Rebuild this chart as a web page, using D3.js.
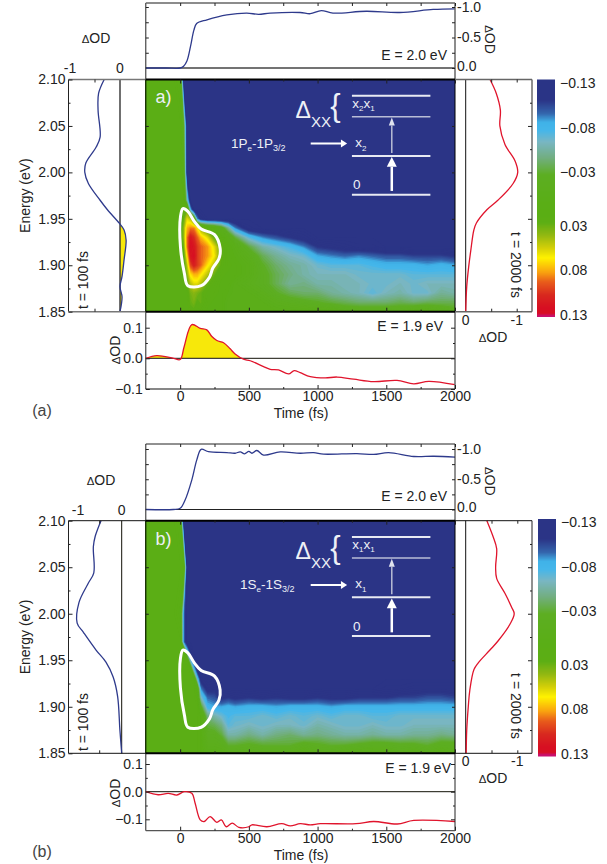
<!DOCTYPE html>
<meta charset="utf-8">
<style>
html, body { margin: 0; padding: 0; background: #fff; }
svg { display: block; }
text { font-family: "Liberation Sans", Arial, sans-serif; fill: #222; }
.tk text { font-size: 14px; fill: #222; }
.tk line { stroke: #222; stroke-width: 1px; }
.tk path { display: none; }
.trace { fill: none; stroke-width: 1.3px; }
.white { fill: #eef0f6; }
</style>
<svg width="607" height="864"></svg>
<script src="https://d3js.org/d3.v7.min.js"></script>
<script>
// axes of the 2D maps
var times = [-250,-100,-50,0,25,50,75,100,125,150,200,250,300,350,400,500,600,700,800,900,1000,1100,1200,1300,1400,1500,1600,1700,1800,1900,2000];
var energies = [2.10,2.05,2.00,1.97,1.96,1.95,1.94,1.93,1.92,1.91,1.90,1.89,1.88,1.87,1.86,1.85];

// map values, dOD x 100, one row per energy
var mapA = [
 [2,2,2,1,-13,-13,-13,-13,-13,-13,-13,-13,-13,-13,-13,-13,-13,-13,-13,-13,-13,-13,-13,-13,-13,-13,-13,-13,-13,-13,-13],
 [2,2,2,2,-2,-13,-13,-13,-13,-13,-13,-13,-13,-13,-13,-13,-13,-13,-13,-13,-13,-13,-13,-13,-13,-13,-13,-13,-13,-13,-13],
 [2,2,2,2,0,-13,-13,-13,-13,-13,-13,-13,-13,-13,-13,-13,-13,-13,-13,-13,-13,-13,-13,-13,-13,-13,-13,-13,-13,-13,-13],
 [2,2,2,2,2,-6,-13,-13,-13,-13,-13,-13,-13,-13,-13,-13,-13,-13,-13,-13,-13,-13,-13,-13,-13,-13,-13,-13,-13,-13,-13],
 [2,2,2,2,3,3,-8,-13,-13,-13,-13,-13,-13,-13,-13,-13,-13,-13,-13,-13,-13,-13,-13,-13,-13,-13,-13,-13,-13,-13,-13],
 [2,2,2,2,3,6,5,1,-9,-12,-13,-13,-13,-13,-13,-13,-13,-13,-13,-13,-13,-13,-13,-13,-13,-13,-13,-13,-13,-13,-13],
 [2,2,2,2,4,8,9,9,7,4,2,1,-1,-5,-9,-12.5,-13,-13,-13,-13,-13,-13,-13,-13,-13,-13,-13,-13,-13,-13,-13],
 [2,2,2,2,4,9,12,11,9.5,8,6,3,1.5,0,-3,-7,-9,-10,-11,-12,-13,-13,-13,-13,-13,-13,-13,-13,-13,-13,-13],
 [2,2,2,2,3,9,12.5,12,10.5,9.5,8.5,6,3,1,0,-3,-5.5,-6.5,-7.5,-9,-11,-11.5,-12,-12.5,-12.5,-13,-13,-13,-13,-13,-13],
 [2,2,2,2,2,7,12,12.5,10.5,9.5,8.5,6.5,3,1,0.5,-1,-3.5,-5,-6,-6.5,-8.5,-9,-9.5,-9,-9.5,-10,-10,-10.5,-10.5,-10.5,-11],
 [2,2,2,2,2,5,10,11.5,10.5,9.5,7,5,2.5,1.5,1,0,-2.5,-4,-5,-5.5,-6.5,-7,-7,-7,-7.5,-8,-8,-8,-8.5,-8,-8.5],
 [2,2,2,2,2,4,7,8,8,7,5,3,1.5,1,1,0,-2,-3.5,-4.5,-5.5,-6,-6,-6,-6.5,-6.5,-6.5,-6.5,-7,-7,-7,-7],
 [2,2,2,2,2,3,5,6,6,5,3,2,1,1,0,-1,-2,-3.5,-5,-4.5,-5.5,-5.5,-6,-6,-6.5,-6.5,-6,-6.5,-6,-6,-6],
 [2,2,2,2,2,2,3.5,4,3.5,3,2,1.5,1,0.5,0,0,-1,-2.5,-3.5,-4,-4,-5,-5.5,-6,-7,-6,-5.5,-6.5,-6.5,-5,-5.5],
 [2,2,2,2,2,2,3,3.5,2.5,3,1.5,1,1,0,0,0,0,-1,-1.5,-2,-2.5,-3,-3.5,-4,-4,-4,-3.5,-4,-3.5,-3.5,-3.5],
 [2,2,2,2,2,2,2.5,2.5,2,2,1,1,1,0,0,0,0,0,0,0,0,0,-1,-1,-1,-1,-1,0,0,-1,-2]
];
var mapB = [
 [2,2,2,1,-13,-13,-13,-13,-13,-13,-13,-13,-13,-13,-13,-13,-13,-13,-13,-13,-13,-13,-13,-13,-13,-13,-13,-13,-13,-13,-13],
 [2,2,2,2,1,-13,-13,-13,-13,-13,-13,-13,-13,-13,-13,-13,-13,-13,-13,-13,-13,-13,-13,-13,-13,-13,-13,-13,-13,-13,-13],
 [2,2,2,1,-9,-13,-13,-13,-13,-13,-13,-13,-13,-13,-13,-13,-13,-13,-13,-13,-13,-13,-13,-13,-13,-13,-13,-13,-13,-13,-13],
 [2,2,2,2,-9,-13,-13,-13,-13,-13,-13,-13,-13,-13,-13,-13,-13,-13,-13,-13,-13,-13,-13,-13,-13,-13,-13,-13,-13,-13,-13],
 [2,2,2,2,2,-7,-12,-13,-13,-13,-13,-13,-13,-13,-13,-13,-13,-13,-13,-13,-13,-13,-13,-13,-13,-13,-13,-13,-13,-13,-13],
 [2,2,2,2,2,1,-7,-12,-13,-13,-13,-13,-13,-13,-13,-13,-13,-13,-13,-13,-13,-13,-13,-13,-13,-13,-13,-13,-13,-13,-13],
 [2,2,2,2,2,2,1,-7,-12,-13,-13,-13,-13,-13,-13,-13,-13,-13,-13,-13,-13,-13,-13,-13,-13,-13,-13,-13,-13,-13,-13],
 [2,2,2,2,2,2,2,1,-7,-12,-13,-13,-13,-13,-13,-13,-13,-13,-13,-13,-13,-13,-13,-13,-13,-13,-13,-13,-13,-13,-13],
 [2,2,2,2,2,2,2,2,0,-9,-12,-11.5,-13,-13,-13,-13,-13,-13,-13,-13,-13,-13,-13,-13,-13,-12.5,-12.5,-12,-12,-12,-12],
 [2,2,2,2,2,2,2,2,1,-6,-9.5,-10,-11.5,-11,-11.5,-11,-11.5,-11,-11.5,-11.5,-11,-11.5,-11.5,-11,-11,-11,-10.5,-10.5,-10,-10,-10.5],
 [2,2,2,2,2,2,2,2,2,-2,-8,-8.5,-8.5,-8,-8.5,-8,-8,-8.5,-8,-8,-8,-8.5,-8,-8,-8,-8,-8,-8,-8,-8,-8],
 [2,2,2,2,2,2,2,2,2,1,-4.5,-5.5,-6.5,-7.5,-7,-7,-6.5,-7,-6.5,-7,-6.5,-7,-6.5,-6.5,-7,-7,-6.5,-6.5,-6.5,-6.5,-6.5],
 [2,2,2,2,2,2,2,2,2,1,-3,-3.5,-4.5,-7,-6.5,-6,-6.5,-6,-6,-6.5,-5.5,-6,-6.5,-6.5,-6,-6.5,-6.5,-6,-6,-6,-6],
 [2,2,2,2,2,2,2,2,2,1,-2,-2,-3,-5.5,-5.5,-4.5,-5.5,-4.5,-4,-5,-4.5,-5,-5.5,-5.5,-5,-5.5,-5.5,-5,-5,-4.5,-5],
 [2,2,2,2,2,2,2,2,2,1,-1,-1,-1.5,-3,-3,-2.5,-3,-3,-3,-2,-2.5,-3,-3,-2.5,-2,-2,-2.5,-2.5,-3,-2,-2],
 [2,2,2,2,2,2,2,2,2,1,0,0,0,-1,-1,-1,-1,-1,-1,0,-1,-1,0,0,0,0,-1,0,-1,0,-1]
];

// kinetic traces
var topTimesA = [-250,-100,0,25,50,75,100,120,195,340,485,570,655,873,947,1027,1112,1355,1598,1841,2000];
var topValuesA = [0,0,0,0.03,0.12,0.35,0.62,0.73,0.79,0.87,0.90,0.88,0.90,0.91,0.89,0.94,0.90,0.93,0.91,0.96,0.97];
var botTimesA = [-250,-170,-48,0,29,85,146,194,231,267,316,364,400,461,510,607,655,716,789,830,874,947,1056,1141,1262,1408,1578,1700,1810,2000];
var botValuesA = [0,0.009,0,-0.004,0.038,0.11,0.098,0.093,0.071,0.058,0.051,0.031,0.014,-0.003,-0.008,-0.027,-0.036,-0.038,-0.051,-0.04,-0.047,-0.06,-0.064,-0.061,-0.068,-0.076,-0.072,-0.083,-0.075,-0.086];
var topTimesB = [-250,-50,0,36,85,121,153,206,340,400,437,469,500,522,558,607,728,874,971,1044,1286,1408,1517,1700,1846,2000];
var topValuesB = [0,0,0.02,0.157,0.49,0.82,0.995,0.955,0.94,0.93,0.953,0.92,0.96,0.93,0.975,0.90,0.953,0.93,0.94,0.915,0.925,0.91,0.94,0.876,0.88,0.865];
var botTimesB = [-250,-160,-87,-24,29,85,109,146,175,218,267,300,335,379,427,500,522,631,740,801,874,947,1020,1280,1408,1580,1700,2000];
var botValuesB = [0,-0.011,-0.006,-0.012,0,-0.006,-0.042,-0.102,-0.108,-0.09,-0.111,-0.102,-0.127,-0.114,-0.129,-0.127,-0.12,-0.127,-0.116,-0.124,-0.116,-0.12,-0.116,-0.116,-0.108,-0.117,-0.104,-0.108];

// spectra
var leftEnergyA = [2.10,2.085,2.067,2.038,2.027,2.01,2.0,1.988,1.97,1.96,1.945,1.938,1.927,1.906,1.888,1.877,1.866,1.85];
var leftValuesA = [-0.31,-0.42,-0.43,-0.39,-0.47,-0.67,-0.69,-0.62,-0.39,-0.25,-0.01,0.08,0.12,0.08,0.04,0,0.04,0];
var rightEnergyA = [2.10,2.085,2.067,2.05,2.03,2.012,2.0,1.988,1.97,1.96,1.9455,1.938,1.916,1.899,1.877,1.85];
var rightValuesA = [-0.477,-0.6,-0.68,-0.67,-0.77,-0.97,-1.02,-0.93,-0.63,-0.42,-0.21,-0.16,-0.1,-0.06,-0.02,0];
var leftEnergyB = [2.10,2.083,2.072,2.044,2.033,2.012,1.99,1.98,1.961,1.948,1.932,1.911,1.875,1.85];
var leftValuesB = [-0.46,-0.59,-0.63,-0.62,-0.74,-0.95,-0.99,-0.85,-0.57,-0.35,-0.19,-0.09,-0.04,0];
var rightEnergyB = [2.10,2.083,2.07,2.05,2.038,2.022,2.007,2.0,1.989,1.971,1.961,1.947,1.94,1.918,1.9,1.875,1.85];
var rightValuesB = [-0.41,-0.53,-0.6,-0.58,-0.6,-0.76,-0.89,-0.94,-0.86,-0.63,-0.47,-0.24,-0.16,-0.08,-0.05,-0.02,-0.01];

// white outline around the induced absorption region
var outlineTimes = [20,56,104,153,250,291,282,238,213,153,56,31,2,2];
var outlineEnergies = [1.961,1.958,1.947,1.939,1.933,1.918,1.907,1.897,1.887,1.878,1.878,1.891,1.920,1.952];

// colour bar
var barLabels = [-0.13,-0.08,-0.03,0.03,0.08,0.13];
var colorStops = [-0.134,-0.111,-0.096,-0.086,-0.077,-0.064,-0.046,-0.027,0.007,0.026,0.040,0.055,0.066,0.082,0.093,0.108,0.122,0.128,0.131];
var colorValues = ["#2b3486","#2b3486","#3465ac","#40b2e8","#45b6ea","#79b6c3","#72ae80","#5dae22","#5aae16","#5cae14","#8fb712","#d4cf08","#fff200","#f9a30f","#e85c1b","#d8281f","#d70f22","#d70f22","#c8106e"];

var color = d3.scaleLinear().domain(colorStops).range(colorValues).clamp(true);
var svg = d3.select("svg");
var colX = d3.scaleLinear().domain([-250, 2000]).range([145.8, 455]);

drawPanel({
  map: mapA, name: "a)", tag: "(a)", tagY: 410,
  topLine: topValuesA, topT: topTimesA, botLine: botValuesA, botT: botTimesA,
  left: leftValuesA, leftE: leftEnergyA, right: rightValuesA, rightE: rightEnergyA,
  frameTop: 3, top0: 68, top1: 7,
  mapTop: 79.5, mapBot: 311.7, botBot: 389, botP: 327.7, bot0: 358.3, botM: 389,
  left0: 120, leftM: 69, right0: 465.7, rightM: 516.7,
  barTop: 79.5, barBot: 316.5, barX: 537, barA: 83, barZ: 315,
  lab1: "1P", labS: "e", lab2: "-1P", x2: "2", labX: 231, topLabelX: 447, botLabelX: 443, botLabelDy: 14.5,
  dTopX: 96, dTopY: 38, minusX: 69, spectrumLabelY: 320, dotY: 337.5, t100y: 280, t2000y: 265, dBotY: 350,
  grey: "#666", weight: 1.5
});
drawPanel({
  map: mapB, name: "b)", tag: "(b)", tagY: 851,
  topLine: topValuesB, topT: topTimesB, botLine: botValuesB, botT: botTimesB,
  left: leftValuesB, leftE: leftEnergyB, right: rightValuesB, rightE: rightEnergyB,
  frameTop: 444, top0: 509.5, top1: 449,
  mapTop: 520.7, mapBot: 753.3, botBot: 830.7, botP: 764, bot0: 791.7, botM: 819.3,
  left0: 121.7, leftM: 76.7, right0: 465.7, rightM: 517.3,
  barTop: 519, barBot: 755.6, barX: 538, barA: 522, barZ: 754,
  lab1: "1S", labS: "e", lab2: "-1S", x2: "1", labX: 240, topLabelX: 447, botLabelX: 451, botLabelDy: 15,
  dTopX: 101, dTopY: 480, minusX: 77, spectrumLabelY: 761, dotY: 778, t100y: 722, t2000y: 706, dBotY: 793,
  grey: "#222", weight: 1
});

function ticks(g, axis, tx, ty) {
  g.append("g").attr("class", "tk").attr("transform", "translate(" + tx + "," + ty + ")").call(axis);
}

function label(g, x, y, str, anchor, size, rot) {
  var t = g.append("text").attr("text-anchor", anchor || "middle").attr("dy", "0.35em")
    .style("font-size", (size || 14) + "px").text(str);
  t.attr("transform", "translate(" + x + "," + y + ")" + (rot ? " rotate(" + rot + ")" : ""));
  return t;
}

function deltaOD(g, x, y, rot) {
  var t = g.append("text").attr("text-anchor", "middle").attr("dy", "0.35em").style("font-size", "14px")
    .attr("transform", "translate(" + x + "," + y + ")" + (rot ? " rotate(" + rot + ")" : ""));
  t.append("tspan").style("font-size", "11.5px").text("\u0394");
  t.append("tspan").text("OD");
}

function hline(g, x1, x2, y, col, w) {
  g.append("line").attr("x1", x1).attr("x2", x2).attr("y1", y).attr("y2", y).style("stroke", col).style("stroke-width", w);
}
function vline(g, x, y1, y2, col, w) {
  g.append("line").attr("x1", x).attr("x2", x).attr("y1", y1).attr("y2", y2).style("stroke", col).style("stroke-width", w);
}

function drawPanel(p) {
  var g = svg.append("g");
  var x = colX;
  var y = d3.scaleLinear().domain([1.85, 2.10]).range([p.mapBot, p.mapTop]);
  var yTop = d3.scaleLinear().domain([0, 1]).range([p.top0, p.top1]);
  var yBot = d3.scaleLinear().domain([-0.1, 0, 0.1]).range([p.botM, p.bot0, p.botP]);
  var xL = d3.scaleLinear().domain([-1, 0]).range([p.leftM, p.left0]);
  var xR = d3.scaleLinear().domain([0, -1]).range([p.right0, p.rightM]);

  // filled contours of the map
  var n = times.length, m = energies.length;
  var gx = d3.scaleLinear().domain(d3.range(n).map(function(i) { return i + 0.5; })).range(times.map(x)).clamp(true);
  var gy = d3.scaleLinear().domain(d3.range(m).map(function(i) { return i + 0.5; })).range(energies.map(y)).clamp(true);
  var path = d3.geoPath(d3.geoTransform({ point: function(u, v) { this.stream.point(gx(u), gy(v)); } }));
  var levels = d3.range(-13.3, 13, 0.33);
  var contours = d3.contours().size([n, m]).thresholds(levels)(d3.merge(p.map));
  g.append("rect").attr("x", x(-250)).attr("y", p.mapTop).attr("width", x(2000) - x(-250)).attr("height", p.mapBot - p.mapTop).attr("fill", color(-0.134));
  g.append("g").selectAll("path").data(contours).enter().append("path")
    .attr("d", path).attr("fill", function(d) { return color(d.value / 100); });

  // outline
  var outline = d3.line().curve(d3.curveCatmullRomClosed.alpha(0.5))
    .x(function(d, i) { return x(outlineTimes[i]); }).y(function(d, i) { return y(outlineEnergies[i]); });
  g.append("path").attr("d", outline(outlineTimes)).style("fill", "none").style("stroke", "#fff").style("stroke-width", 3);

  // level scheme inside the map
  var lx1 = x(1250), lx2 = x(1821);
  hline(g, lx1, lx2, y(2.0826), "#e8eaf2", 2);
  hline(g, lx1, lx2, y(2.06), "#b9bdd6", 1.5);
  hline(g, lx1, lx2, y(2.0176), "#e8eaf2", 2);
  hline(g, lx1, lx2, y(1.976), "#e8eaf2", 2);
  var ax = x(1540);
  vline(g, ax, y(2.021), y(2.0505), "#b9bdd6", 1.5);
  g.append("path").attr("d", d3.line()([[ax - 3, y(2.0505)], [ax + 3, y(2.0505)], [ax, y(2.059)]])).attr("fill", "#dfe2ee");
  vline(g, ax, y(1.98), y(2.006), "#fff", 2.5);
  g.append("path").attr("d", d3.line()([[ax - 5, y(2.006)], [ax + 5, y(2.006)], [ax, y(2.0165)]])).attr("fill", "#fff");
  hline(g, x(950), x(1185), y(2.031), "#fff", 2);
  g.append("path").attr("d", d3.line()([[x(1170), y(2.031) - 4], [x(1170), y(2.031) + 4], [x(1215), y(2.031)]])).attr("fill", "#fff");

  label(g, x(-122), y(2.081), p.name, "middle", 18).attr("class", "white");
  var tr = g.append("text").attr("class", "white").attr("x", p.labX).attr("y", y(2.031) + 4.5).style("font-size", "13.5px");
  tr.append("tspan").text(p.lab1);
  tr.append("tspan").attr("dy", 3).style("font-size", "8px").text(p.labS);
  tr.append("tspan").attr("dy", -3).text(p.lab2);
  tr.append("tspan").attr("dy", 3).style("font-size", "9px").text("3/2");
  var dl = g.append("text").attr("class", "white").attr("x", x(840)).attr("y", y(2.0585));
  dl.append("tspan").style("font-size", "23px").text("\u0394");
  dl.append("tspan").attr("dy", 9).style("font-size", "15px").text("XX");
  g.append("text").attr("class", "white").attr("text-anchor", "middle").attr("x", x(1130)).attr("y", y(2.072)).attr("dy", "0.35em")
    .style("font-size", "31px").text("{");
  var xx = g.append("text").attr("class", "white").attr("x", x(1252)).attr("y", y(2.074) + 4).style("font-size", "13.5px");
  xx.append("tspan").text("x");
  xx.append("tspan").attr("dy", 3).style("font-size", "8px").text(p.x2);
  xx.append("tspan").attr("dy", -3).text("x");
  xx.append("tspan").attr("dy", 3).style("font-size", "8px").text("1");
  var xs = g.append("text").attr("class", "white").attr("x", x(1275)).attr("y", y(2.032) + 4).style("font-size", "13.5px");
  xs.append("tspan").text("x");
  xs.append("tspan").attr("dy", 4).style("font-size", "8px").text(p.x2);
  g.append("text").attr("class", "white").attr("x", x(1258)).attr("y", y(1.987) + 5).style("font-size", "13.5px").text("0");

  // top trace
  var topLine = d3.line().curve(d3.curveCatmullRom.alpha(0.5))
    .x(function(d, i) { return x(p.topT[i]); }).y(function(d) { return yTop(d); });
  hline(g, x(-250), x(2000), p.top0, p.grey === "#666" ? "#444" : "#222", p.weight === 1 ? 1.2 : 1.5);
  g.append("path").attr("class", "trace").attr("d", topLine(p.topLine)).style("stroke", "#2e3a8c");
  vline(g, x(-250), p.frameTop, p.mapTop, "#222", 1);
  vline(g, x(2000), p.frameTop, p.mapTop, p.grey, p.weight);
  hline(g, x(-250), x(2000), p.frameTop, p.grey, p.weight);
  ticks(g, d3.axisTop(x).tickValues(d3.range(0, 2001, 250)).tickSize(-3).tickFormat(""), 0, p.frameTop);
  ticks(g, d3.axisLeft(yTop).tickValues([0.25, 0.5, 0.75, 1]).tickSize(-3).tickFormat(""), x(-250), 0);
  ticks(g, d3.axisRight(yTop).tickValues([0, 0.25, 0.5, 0.75, 1]).tickSize(-3).tickFormat(""), x(2000), 0);
  [[1, "-1.0"], [0.5, "-0.5"], [0, "0.0"]].forEach(function(d) {
    label(g, x(2000) + 2, yTop(d[0]) + (d[0] === 0 ? -2 : 0), d[1], "start", 14);
  });
  deltaOD(g, x(2000) + 35, (p.top0 + p.top1) / 2 + 2, 90);
  label(g, p.topLabelX, p.top0 - 13, "E = 2.0 eV", "end", 14);
  deltaOD(g, p.dTopX, p.dTopY);

  // bottom trace
  var botLine = d3.line().curve(d3.curveCatmullRom.alpha(0.5))
    .x(function(d, i) { return x(p.botT[i]); }).y(function(d) { return yBot(d); });
  var botArea = d3.area().curve(d3.curveCatmullRom.alpha(0.5))
    .x(function(d, i) { return x(p.botT[i]); }).y0(yBot(0)).y1(function(d) { return yBot(d); });
  var clipId = "clip" + p.tag.charAt(1);
  g.append("clipPath").attr("id", clipId + "b").append("rect").attr("x", x(-250)).attr("y", p.mapBot).attr("width", x(2000) - x(-250)).attr("height", yBot(0) - p.mapBot);
  g.append("path").attr("d", botArea(p.botLine)).attr("clip-path", "url(#" + clipId + "b)").style("fill", "#f7e80a");
  hline(g, x(-250), x(2000), yBot(0), "#111", 1);
  g.append("path").attr("class", "trace").attr("d", botLine(p.botLine)).style("stroke", "#e0142c");
  vline(g, x(-250), p.mapBot, p.botBot, "#222", 1);
  vline(g, x(2000), p.mapBot, p.botBot, p.grey, p.weight);
  hline(g, x(-250), x(2000), p.botBot, p.grey === "#666" ? "#111" : "#555", 1.2);
  ticks(g, d3.axisBottom(x).tickValues(d3.range(0, 2001, 500)).tickSize(-4).tickPadding(2).tickFormat(d3.format("d")), 0, p.botBot);
  ticks(g, d3.axisBottom(x).tickValues(d3.range(250, 2000, 500)).tickSize(-2).tickFormat(""), 0, p.botBot);
  ticks(g, d3.axisLeft(yBot).tickValues([-0.1, 0, 0.1]).tickSize(-4).tickPadding(3).tickFormat(d3.format(".1f")), x(-250), 0);
  ticks(g, d3.axisLeft(yBot).tickValues([-0.05, 0.05]).tickSize(-2).tickFormat(""), x(-250), 0);
  ticks(g, d3.axisRight(yBot).tickValues([-0.1, 0, 0.1]).tickSize(-4).tickFormat(""), x(2000), 0);
  ticks(g, d3.axisRight(yBot).tickValues([-0.05, 0.05]).tickSize(-2).tickFormat(""), x(2000), 0);
  deltaOD(g, 115, p.dBotY, -90);
  label(g, p.botLabelX, p.mapBot + p.botLabelDy, "E = 1.9 eV", "end", 14);
  label(g, 301, p.botBot + 24, "Time (fs)", "middle", 14);
  label(g, 42, p.tagY, p.tag, "middle", 16).style("fill", "#444");

  // left spectrum
  var leftLine = d3.line().curve(d3.curveCatmullRom.alpha(0.5))
    .x(function(d) { return xL(d); }).y(function(d, i) { return y(p.leftE[i]); });
  var leftArea = d3.area().curve(d3.curveCatmullRom.alpha(0.5))
    .y(function(d, i) { return y(p.leftE[i]); }).x0(xL(0)).x1(function(d) { return xL(d); });
  g.append("clipPath").attr("id", clipId + "l").append("rect").attr("x", xL(0)).attr("y", p.mapTop).attr("width", 30).attr("height", p.mapBot - p.mapTop);
  g.append("path").attr("d", leftArea(p.left)).attr("clip-path", "url(#" + clipId + "l)").style("fill", "#f7e80a");
  vline(g, xL(0), p.mapTop, p.mapBot, p.grey === "#666" ? "#333" : "#111", p.weight === 1 ? 1 : 1.4);
  g.append("path").attr("class", "trace").attr("d", leftLine(p.left)).style("stroke", "#2e3a8c");
  vline(g, 68.5, p.mapTop, p.mapBot, "#222", 1);
  hline(g, 68.5, x(-250), p.mapTop, p.grey === "#666" ? "#777" : "#111", p.weight);
  hline(g, 68.5, x(-250), p.mapBot, p.grey === "#666" ? "#777" : "#111", p.weight);
  ticks(g, d3.axisLeft(y).tickValues([1.85, 1.90, 1.95, 2.00, 2.05, 2.10]).tickSize(-4).tickPadding(3).tickFormat(d3.format(".2f")), 68.5, 0);
  ticks(g, d3.axisLeft(y).tickValues([1.875, 1.925, 1.975, 2.025, 2.075]).tickSize(-2).tickFormat(""), 68.5, 0);
  ticks(g, d3.axisBottom(xL).tickValues([-0.5]).tickSize(-3).tickFormat(""), 0, p.mapBot);
  ticks(g, d3.axisTop(xL).tickValues([-0.5]).tickSize(-3).tickFormat(""), 0, p.mapTop);
  label(g, p.minusX + 1, p.mapTop - 11, "-1", "middle", 14);
  label(g, xL(0), p.mapTop - 11, "0", "middle", 14);
  label(g, 25, (p.mapTop + p.mapBot) / 2, "Energy (eV)", "middle", 14, -90);
  label(g, 83, p.t100y, "t = 100 fs", "middle", 14, -90);

  // map frame and ticks
  hline(g, x(-250), x(2000), p.mapTop, "#000", 2);
  hline(g, x(-250), x(2000), p.mapBot, "#000", 2);
  vline(g, x(-250), p.mapTop, p.mapBot, "#000", 1);
  vline(g, x(2000), p.mapTop, p.mapBot, "#000", 1);
  ticks(g, d3.axisTop(x).tickValues(d3.range(250, 2000, 500)).tickSize(-2).tickFormat(""), 0, p.mapTop);
  ticks(g, d3.axisBottom(x).tickValues(d3.range(0, 2001, 500)).tickSize(-4).tickFormat(""), 0, p.mapBot);
  ticks(g, d3.axisBottom(x).tickValues(d3.range(250, 2000, 500)).tickSize(-2).tickFormat(""), 0, p.mapBot);
  ticks(g, d3.axisTop(x).tickValues(d3.range(0, 2001, 500)).tickSize(-4).tickFormat(""), 0, p.mapTop);
  ticks(g, d3.axisLeft(y).tickValues([1.90, 1.95, 2.00, 2.05]).tickSize(-3).tickFormat(""), x(-250), 0);
  ticks(g, d3.axisRight(y).tickValues([1.90, 1.95, 2.00, 2.05]).tickSize(-3).tickFormat(""), x(2000), 0);

  // right spectrum
  var rightLine = d3.line().curve(d3.curveCatmullRom.alpha(0.5))
    .x(function(d) { return xR(d); }).y(function(d, i) { return y(p.rightE[i]); });
  vline(g, xR(0), p.mapTop, p.mapBot, "#111", 1);
  g.append("path").attr("class", "trace").attr("d", rightLine(p.right)).style("stroke", "#e0142c");
  vline(g, 532, p.mapTop, p.mapBot, "#222", 1);
  hline(g, x(2000), 532, p.mapTop, p.grey === "#666" ? "#666" : "#111", p.weight);
  hline(g, x(2000), 532, p.mapBot, p.grey === "#666" ? "#666" : "#111", p.weight);
  ticks(g, d3.axisRight(y).tickValues([1.90, 1.95, 2.00, 2.05]).tickSize(-4).tickFormat(""), 532, 0);
  ticks(g, d3.axisRight(y).tickValues([1.875, 1.925, 1.975, 2.025, 2.075]).tickSize(-2).tickFormat(""), 532, 0);
  ticks(g, d3.axisBottom(xR).tickValues([-1, -0.5]).tickSize(-3).tickFormat(""), 0, p.mapBot);
  ticks(g, d3.axisTop(xR).tickValues([-1, -0.5]).tickSize(-3).tickFormat(""), 0, p.mapTop);
  label(g, xR(0), p.spectrumLabelY, "0", "middle", 14);
  label(g, xR(-1), p.spectrumLabelY, "-1", "middle", 14);
  deltaOD(g, 493, p.dotY);
  label(g, 516, p.t2000y, "t = 2000 fs", "middle", 14, 90);

  // colour bar
  var barY = d3.scaleLinear().domain([-0.13, 0.13]).range([p.barA, p.barZ]);
  var steps = d3.range(p.barTop, p.barBot, 1);
  g.append("g").selectAll("rect").data(steps).enter().append("rect")
    .attr("x", p.barX).attr("y", function(d) { return d; }).attr("width", 18).attr("height", 1.5)
    .attr("fill", function(d) { return color(barY.invert(d + 0.5)); });
  g.append("g").selectAll("text").data(barLabels).enter().append("text")
    .attr("x", p.barX + 23).attr("y", barY).attr("dy", "0.35em").style("font-size", "14px")
    .text(function(d) { return d3.format(".2f")(d); });
}
</script>
